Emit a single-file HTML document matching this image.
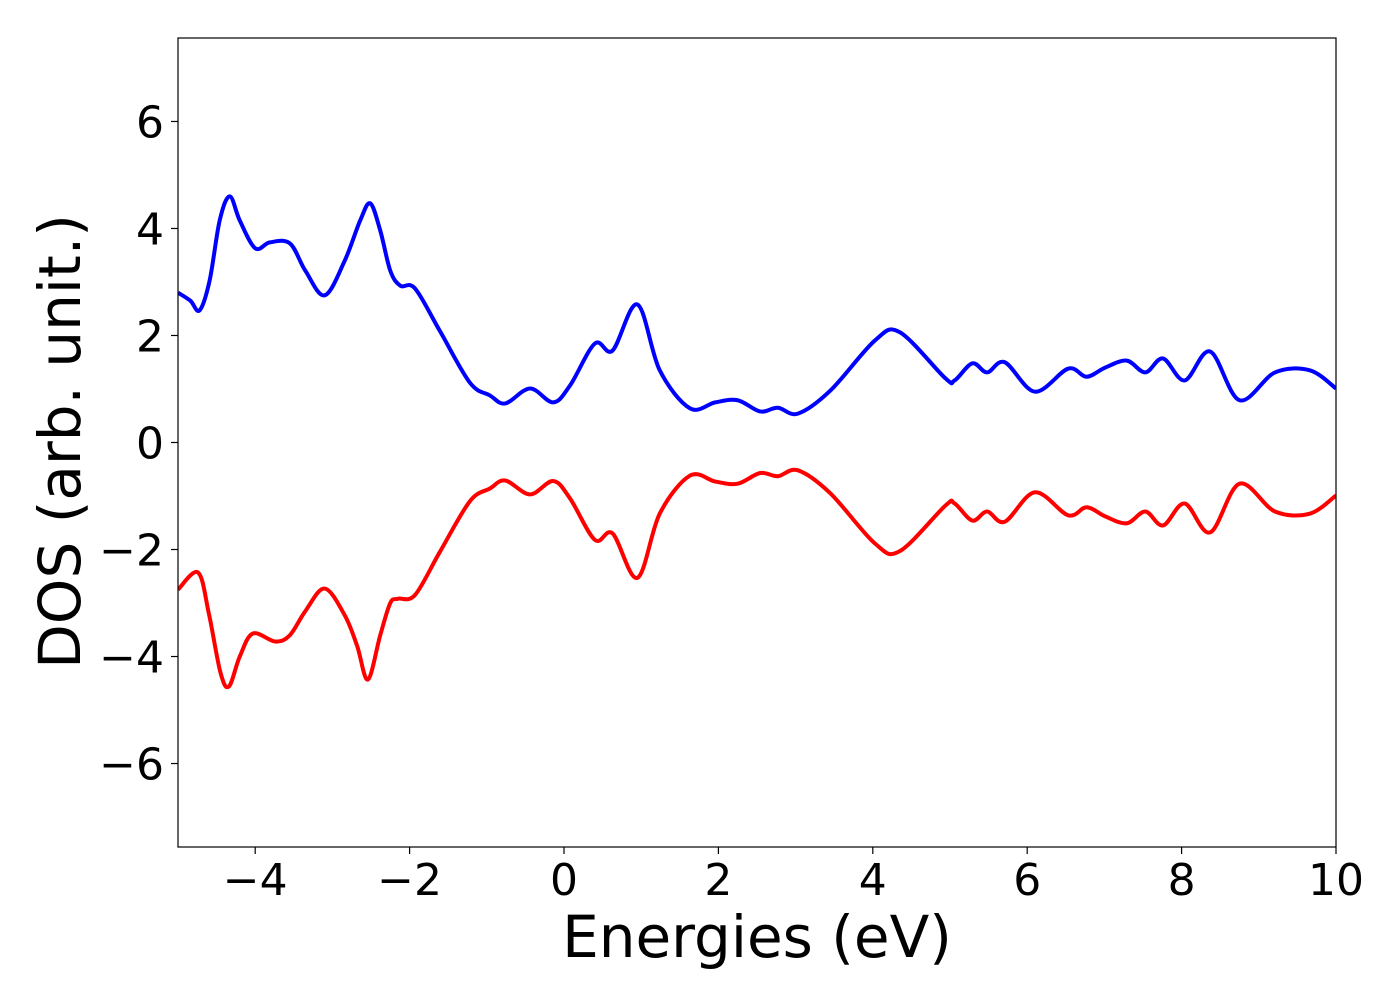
<!DOCTYPE html>
<html><head><meta charset="utf-8">
<style>
body{margin:0;background:#fff;}
svg{display:block;font-family:"DejaVu Sans","Liberation Sans",sans-serif;}
</style></head>
<body>
<svg id="chart" width="1400" height="1000">
<rect x="0" y="0" width="1400" height="1000" fill="#fff"/>
<g id="plot"></g>
</svg>
<script>
const xTicks=[-4,-2,0,2,4,6,8,10];
const yTicks=[-6,-4,-2,0,2,4,6];
const blueX=[-5,-4.84,-4.72,-4.59,-4.46,-4.33,-4.2,-4.0,-3.81,-3.55,-3.35,-3.1,-2.84,-2.64,-2.51,-2.38,-2.25,-2.12,-1.93,-1.61,-1.22,-0.96,-0.76,-0.44,-0.14,0.08,0.40,0.63,0.95,1.24,1.63,1.96,2.25,2.54,2.77,3.03,3.45,4.03,4.35,4.94,5.06,5.29,5.48,5.71,6.10,6.53,6.77,7.01,7.29,7.53,7.76,8.04,8.37,8.75,9.21,9.66,10];
const blueY=[2.80,2.65,2.47,3.03,4.15,4.6,4.15,3.63,3.74,3.72,3.21,2.75,3.4,4.15,4.47,3.96,3.21,2.93,2.88,2.09,1.12,0.88,0.73,1.01,0.75,1.07,1.85,1.72,2.58,1.35,0.64,0.75,0.79,0.58,0.65,0.54,0.97,1.91,2.06,1.20,1.16,1.48,1.31,1.50,0.95,1.38,1.23,1.40,1.53,1.31,1.57,1.16,1.70,0.79,1.31,1.35,1.01];
const redX=[-5,-4.74,-4.6,-4.45,-4.34,-4.2,-4.03,-3.74,-3.55,-3.35,-3.1,-2.84,-2.68,-2.54,-2.38,-2.25,-2.15,-1.93,-1.61,-1.22,-0.96,-0.76,-0.44,-0.14,0.08,0.40,0.63,0.95,1.24,1.63,1.96,2.25,2.54,2.77,3.03,3.45,4.03,4.35,4.94,5.06,5.29,5.48,5.71,6.10,6.53,6.77,7.01,7.29,7.53,7.76,8.04,8.37,8.75,9.21,9.66,10];
const redY=[-2.75,-2.43,-3.2,-4.3,-4.56,-4.0,-3.57,-3.72,-3.6,-3.15,-2.73,-3.23,-3.8,-4.43,-3.6,-3.0,-2.92,-2.85,-2.05,-1.1,-0.86,-0.71,-0.97,-0.72,-1.05,-1.82,-1.70,-2.53,-1.33,-0.62,-0.73,-0.77,-0.57,-0.63,-0.52,-0.95,-1.89,-2.03,-1.18,-1.14,-1.46,-1.29,-1.48,-0.93,-1.36,-1.21,-1.38,-1.51,-1.29,-1.55,-1.14,-1.68,-0.77,-1.29,-1.33,-0.99];

const L=178,R=1336,T=38,B=847,xmin=-5,xmax=10,ymin=-7.56,ymax=7.56;
const sx=v=>L+(v-xmin)/(xmax-xmin)*(R-L);
const sy=v=>B-(v-ymin)/(ymax-ymin)*(B-T);
const NS="http://www.w3.org/2000/svg";
const g=document.getElementById('plot');
function mk(tag,attrs){const e=document.createElementNS(NS,tag);for(const k in attrs)e.setAttribute(k,attrs[k]);g.appendChild(e);return e;}
function smooth(xs,ys){
  const p=xs.map((x,i)=>[sx(x),sy(ys[i])]);
  let d=`M${p[0][0]},${p[0][1]}`;
  for(let i=0;i<p.length-1;i++){
    const p0=p[Math.max(0,i-1)],p1=p[i],p2=p[i+1],p3=p[Math.min(p.length-1,i+2)];
    const c1=[p1[0]+(p2[0]-p0[0])/6,p1[1]+(p2[1]-p0[1])/6];
    const c2=[p2[0]-(p3[0]-p1[0])/6,p2[1]-(p3[1]-p1[1])/6];
    d+=`C${c1[0]},${c1[1]} ${c2[0]},${c2[1]} ${p2[0]},${p2[1]}`;
  }
  return d;
}
const clip=mk('clipPath',{id:'cp'});
const cr=document.createElementNS(NS,'rect');cr.setAttribute('x',L);cr.setAttribute('y',T);cr.setAttribute('width',R-L);cr.setAttribute('height',B-T);clip.appendChild(cr);
const bl=mk('path',{d:smooth(blueX,blueY),fill:'none',stroke:'#0000ff','stroke-width':4,'clip-path':'url(#cp)'});


const rl=mk('path',{d:smooth(redX,redY),fill:'none',stroke:'#ff0000','stroke-width':4,'clip-path':'url(#cp)'});


const fr=mk('rect',{x:L,y:T,width:R-L,height:B-T,fill:'none',stroke:'#000','stroke-width':1.2});


xTicks.forEach(v=>{
  const x=sx(v);
  const tk=mk('line',{x1:x,x2:x,y1:B,y2:B+7,stroke:'#000','stroke-width':1.2});
  
  
  const t=mk('text',{x:x,y:B+48,'font-size':44,'text-anchor':'middle'});
  t.textContent=(v<0?'\u2212':'')+Math.abs(v);
  
  
});
yTicks.forEach(v=>{
  const y=sy(v);
  const tk=mk('line',{x1:L-7,x2:L,y1:y,y2:y,stroke:'#000','stroke-width':1.2});
  
  
  const t=mk('text',{x:L-14,y:y+16,'font-size':44,'text-anchor':'end'});
  t.textContent=(v<0?'\u2212':'')+Math.abs(v);
  
  
});
const xt=mk('text',{x:(L+R)/2,y:957,'font-size':58,'text-anchor':'middle'});
xt.textContent='Energies (eV)';


const yt=mk('text',{x:0,y:0,'font-size':58,'text-anchor':'middle',transform:`translate(80,${(T+B)/2-1}) rotate(-90)`});
yt.textContent='DOS (arb. unit.)';


</script>
</body></html>
